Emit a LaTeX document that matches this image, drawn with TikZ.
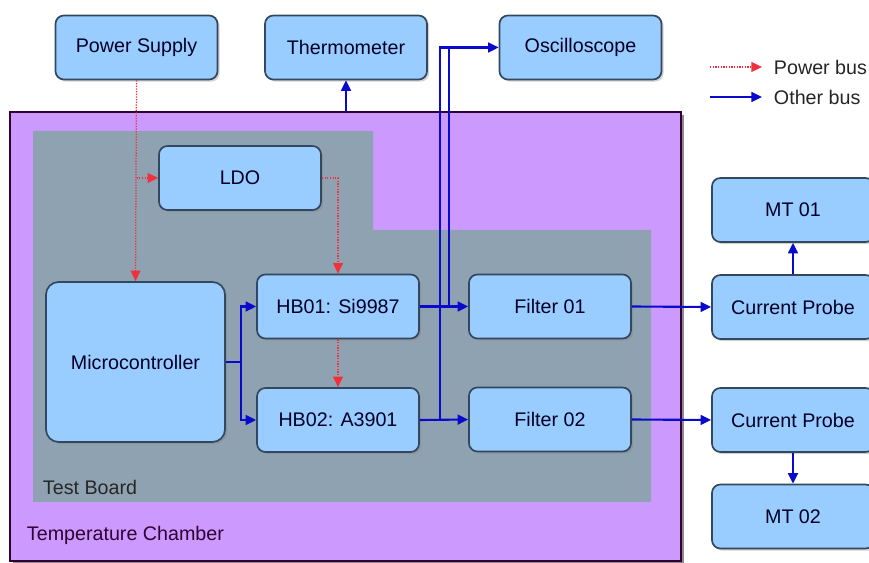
\documentclass[tikz,border=0pt]{standalone}
\usepackage{fontspec}
\setmainfont{Liberation Sans}
\usetikzlibrary{arrows.meta,shadows}
\definecolor{chamber}{HTML}{CC99FF}
\definecolor{board}{HTML}{8FA2B2}
\definecolor{boxfill}{HTML}{99CCFF}
\definecolor{boxline}{HTML}{33475E}
\definecolor{obusc}{HTML}{0A0ACC}
\definecolor{pbusc}{HTML}{F0303A}
\tikzset{
  box/.style={draw=boxline, line width=1.2pt, fill=boxfill, rounded corners=6pt,
    minimum width=4.05cm, minimum height=1.6cm, inner sep=0pt, text=black!85!blue,
    drop shadow={shadow xshift=1.5pt, shadow yshift=-1.5pt, opacity=0.35}},
  pbus/.style={pbusc, densely dotted, line width=0.9pt, -{Triangle[length=7.5pt,width=7pt]}},
  obus/.style={obusc, line width=1.5pt, -{Triangle[length=7.5pt,width=7pt]}},
  oline/.style={obusc, line width=1.5pt}
}
\begin{document}
\begin{tikzpicture}[x=0.025cm, y=-0.025cm, font=\fontsize{14}{16}\selectfont]
  \useasboundingbox[fill=white] (0,0) rectangle (869,563);
  % chamber and board
  \fill[black!45] (13,115) rectangle (684,564);
  \filldraw[fill=chamber, draw=black!60!violet, line width=0.8pt] (10,112) rectangle (681,561);
  \fill[board] (33,131) -- (373,131) -- (373,230) -- (651,230) -- (651,502) -- (33,502) -- cycle;
  \node[anchor=west, text=black!85] (tblabel) at (38,487) {Test Board};
  \node[anchor=west, text=violet!40!black] (tclabel) at (22,535) {Temperature Chamber};
  % blocks
  \node[box] (ps) at (136.5,47.5) {Power Supply};
  \node[box] (thermo) at (346,47.5) {Thermometer};
  \node[box] (osc) at (580.5,47.5) {Oscilloscope};
  \node[box] (ldo) at (240,178) {LDO};
  \node[box, minimum width=4.475cm, minimum height=4cm, rounded corners=9pt] (mcu) at (135.5,362) {Microcontroller};
  \node[box] (hb1) at (338,306.5) {HB01: Si9987};
  \node[box] (hb2) at (338,420) {HB02: A3901};
  \node[box] (f1) at (550,306.5) {Filter 01};
  \node[box] (f2) at (550,419.5) {Filter 02};
  \node[box] (mt1) at (793,210) {MT 01};
  \node[box] (cp1) at (793,307) {Current Probe};
  \node[box] (cp2) at (793,420) {Current Probe};
  \node[box] (mt2) at (793,516.5) {MT 02};
  % power bus
  \draw[pbus] (ps.south) -- (mcu.north);
  \draw[pbus] (ps.south |- ldo.west) -- (ldo.west);
  \draw[pbus] (ldo.east) -| (hb1.north);
  \draw[pbus] (hb1.south) -- (hb2.north);
  % other bus
  \coordinate (mj) at (241,362);
  \draw[oline] (mcu.east |- mj) -- (mj);
  \draw[obus] (mj) |- (hb1.west);
  \draw[obus] (mj) |- (hb2.west);
  \draw[obus] (hb1.east) -- (f1.west);
  \draw[obus] (hb2.east) -- (f2.west);
  \coordinate (tapA) at (449,47.5);
  \coordinate (tapB) at (440,47.5);
  \draw[oline] (hb1.east -| tapA) -- (tapA);
  \draw[obus] (hb2.east -| tapB) -- (tapB) -- (osc.west);
  \coordinate (chtop) at (346,112);
  \draw[obus] (chtop) -- (thermo.south);
  \draw[obus] (f1.east) -- (cp1.west);
  \draw[obus] (f2.east) -- (cp2.west);
  \draw[obus] (cp1.north) -- (mt1.south);
  \draw[obus] (cp2.south) -- (mt2.north);
  % legend
  \coordinate (lp1) at (710,67);
  \coordinate (lp2) at (762,67);
  \coordinate (lo1) at (710,97);
  \coordinate (lo2) at (762,97);
  \draw[pbus] (lp1) -- (lp2);
  \draw[obus] (lo1) -- (lo2);
  \node[anchor=west, text=black!85] (lgp) at (769,67) {Power bus};
  \node[anchor=west, text=black!85] (lgo) at (769,97) {Other bus};
\end{tikzpicture}
\end{document}
